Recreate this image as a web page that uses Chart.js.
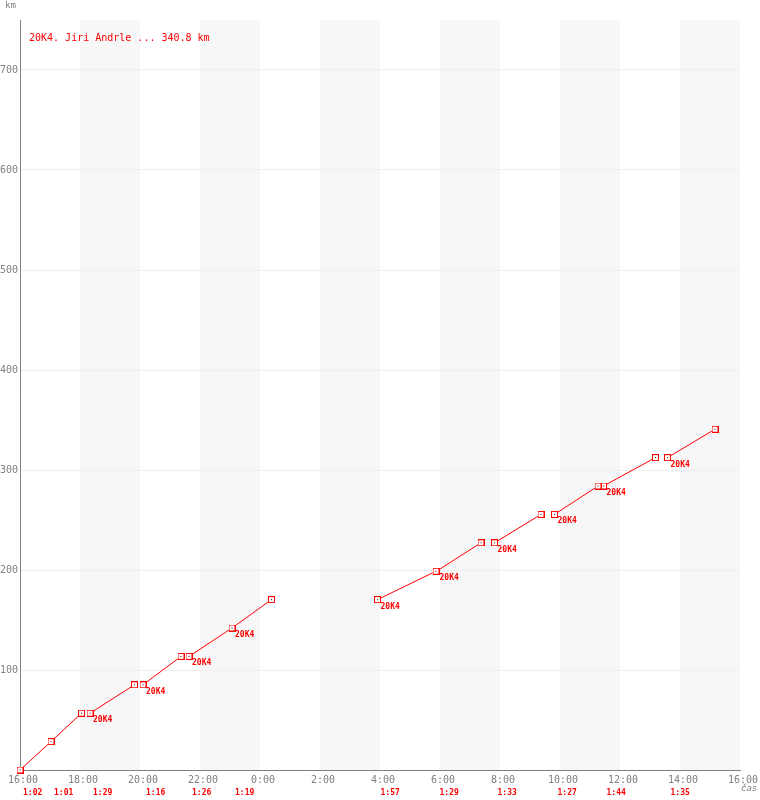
<!DOCTYPE html>
<html>
<head>
<meta charset="utf-8">
<script src="https://cdn.jsdelivr.net/npm/chart.js@4"></script>
<style>
  body { margin: 0; background: #fff; }
  #wrap { width: 760px; height: 800px; }
</style>
</head>
<body>
<div id="wrap"><canvas id="chart" width="760" height="800"></canvas></div>
<script>
// kola: start, cil, km na konci kola, cas kola
const lapStart = ['16:00','17:02','18:20','20:06','21:38','23:04','3:55','5:53','7:49','9:49','11:27','13:35'];
const lapEnd   = ['17:02','18:03','19:49','21:22','23:04','0:23','5:52','7:22','9:22','11:16','13:11','15:10'];
const lapKm    = [28.4, 56.8, 85.2, 113.6, 142, 170.4, 198.8, 227.2, 255.6, 284, 312.4, 340.8];
const lapTimes = ['1:02','1:01','1:29','1:16','1:26','1:19','1:57','1:29','1:33','1:27','1:44','1:35'];
const stopLabels = ['','','20K4','20K4','20K4','20K4','20K4','20K4','20K4','20K4','20K4','20K4'];
const xTicks = ['16:00','18:00','20:00','22:00','0:00','2:00','4:00','6:00','8:00','10:00','12:00','14:00','16:00'];
const yTicks = [100, 200, 300, 400, 500, 600, 700];
const shaded = [['18:00','20:00'],['22:00','0:00'],['2:00','4:00'],['6:00','8:00'],['10:00','12:00'],['14:00','16:00']];
const title = '20K4. Jiri Andrle ... 340.8 km';

// minuty od 16:00
function mins(t, end) {
  const [h, m] = t.split(':').map(Number);
  let v = ((h * 60 + m) - 960 + 1440) % 1440;
  if (end && v === 0) v = 1440;
  return v;
}

const red = '#ff0000';
const gray = '#808080';
const mono = '"DejaVu Sans Mono", "Liberation Mono", monospace';

// bod: ctverecek s teckou
const pt = document.createElement('canvas');
pt.width = 7; pt.height = 7;
const pc = pt.getContext('2d');
pc.fillStyle = '#fff';
pc.fillRect(0, 0, 7, 7);
pc.strokeStyle = red;
pc.lineWidth = 1;
pc.strokeRect(0.5, 0.5, 6, 6);
pc.fillStyle = '#600000';
pc.fillRect(3, 3, 1, 1);

const datasets = lapStart.map((s, i) => ({
  data: [
    { x: mins(s), y: i === 0 ? 0 : lapKm[i - 1] },
    { x: mins(lapEnd[i], true), y: lapKm[i] }
  ],
  borderColor: red,
  borderWidth: 1,
  pointStyle: pt,
  pointRadius: 3,
  pointHoverRadius: 3,
  fill: false,
  tension: 0,
  clip: false
}));

const background = {
  id: 'background',
  beforeDraw(chart) {
    const { ctx, chartArea: a, scales: { x } } = chart;
    ctx.save();
    ctx.fillStyle = '#fff';
    ctx.fillRect(0, 0, chart.width, chart.height);
    ctx.fillStyle = '#f7f7f7';
    shaded.forEach(([s, e]) => {
      const x1 = x.getPixelForValue(mins(s));
      const x2 = x.getPixelForValue(mins(e, true));
      ctx.fillRect(x1, a.top, x2 - x1, a.bottom - a.top);
    });
    ctx.restore();
  }
};

const texts = {
  id: 'texts',
  afterDatasetsDraw(chart) {
    const { ctx, chartArea: a, scales: { x, y } } = chart;
    ctx.save();
    ctx.textBaseline = 'middle';
    ctx.textAlign = 'left';
    ctx.fillStyle = red;
    ctx.font = '10px ' + mono;
    ctx.fillText(title, a.left + 9, 38);

    ctx.font = 'bold 8px ' + mono;
    lapStart.forEach((s, i) => {
      const px = x.getPixelForValue(mins(s));
      ctx.fillText(lapTimes[i], px + 3, 793);
      if (stopLabels[i]) {
        const py = y.getPixelForValue(i === 0 ? 0 : lapKm[i - 1]);
        ctx.fillText(stopLabels[i], px + 3, py + 7);
      }
    });

    ctx.fillStyle = gray;
    ctx.font = '9px ' + mono;
    ctx.fillText('km', 5, 6);
    ctx.font = 'italic 9px ' + mono;
    ctx.fillText('čas', 741, 789);
    ctx.restore();
  }
};

new Chart(document.getElementById('chart'), {
  type: 'line',
  data: { datasets },
  plugins: [background, texts],
  options: {
    responsive: false,
    animation: false,
    events: [],
    layout: { padding: { top: 20, right: 20, left: 0, bottom: 0 } },
    plugins: { legend: { display: false }, tooltip: { enabled: false } },
    scales: {
      x: {
        type: 'linear',
        min: 0,
        max: 1440,
        afterFit(s) { s.height = 30; },
        afterBuildTicks(s) { s.ticks = xTicks.map((t, i) => ({ value: i === xTicks.length - 1 ? 1440 : mins(t) })); },
        ticks: {
          autoSkip: false,
          maxRotation: 0,
          padding: 4,
          labelOffset: 3,
          color: gray,
          font: { family: mono, size: 10 },
          callback: (v, i) => xTicks[i]
        },
        grid: { display: false, drawTicks: false },
        border: { color: gray, width: 1 }
      },
      y: {
        min: 0,
        max: 750,
        afterFit(s) { s.width = 20; },
        afterBuildTicks(s) { s.ticks = yTicks.map(v => ({ value: v })); },
        ticks: {
          padding: 2,
          color: gray,
          font: { family: mono, size: 10 }
        },
        grid: { color: '#eeeeee', drawTicks: false },
        border: { color: gray, width: 1 }
      }
    }
  }
});
</script>
</body>
</html>
